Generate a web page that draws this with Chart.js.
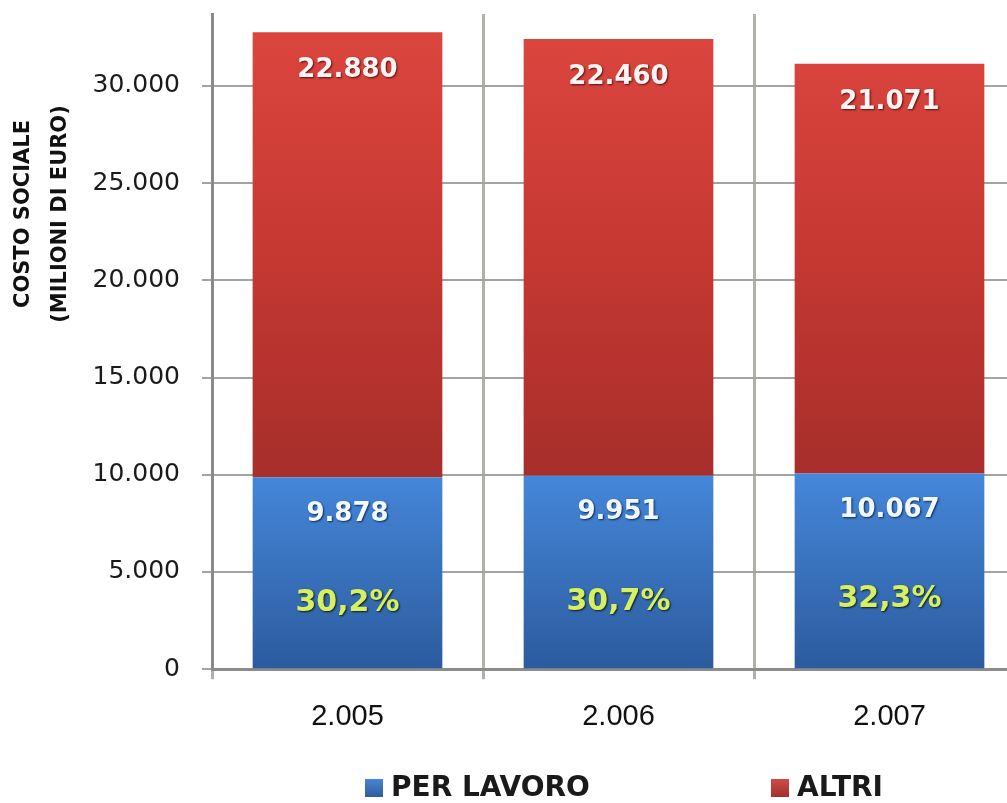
<!DOCTYPE html>
<html>
<head>
<meta charset="utf-8">
<script src="https://cdn.jsdelivr.net/npm/chart.js@4/dist/chart.umd.min.js"></script>
<style>
  html, body { margin: 0; padding: 0; background: #fff; overflow: hidden; }
  #wrap { width: 1040px; height: 803px; }
</style>
</head>
<body>
<div id="wrap"><canvas id="costChart" width="1040" height="803"></canvas></div>
<script>
// values
const categories = ['2.005', '2.006', '2.007'];
const perLavoro = [9878, 9951, 10067];
const altri = [22880, 22460, 21071];
const seriesNames = ['PER LAVORO', 'ALTRI'];
const yAxisTitle = ['COSTO SOCIALE', '(MILIONI DI EURO)'];
const yTicks = [0, 5000, 10000, 15000, 20000, 25000, 30000];
const yMax = 33700;

// 22880 -> "22.880"
function fmt(v) {
    return String(Math.round(v)).replace(/\B(?=(\d{3})+(?!\d))/g, '.');
}

function pct(i) {
    const p = perLavoro[i] / (perLavoro[i] + altri[i]) * 100;
    return p.toFixed(1).replace('.', ',') + '%';
}

function redFill(context) {
    const chart = context.chart;
    const y = chart.scales.y;
    if (!y || !chart.chartArea) return '#c0332f';
    const g = chart.ctx.createLinearGradient(0, y.getPixelForValue(33000), 0, y.getPixelForValue(10000));
    g.addColorStop(0, '#dc463f');
    g.addColorStop(0.5, '#c63832');
    g.addColorStop(1, '#a72e2b');
    return g;
}

function blueFill(context) {
    const chart = context.chart;
    const y = chart.scales.y;
    if (!y || !chart.chartArea) return '#3a72c0';
    const g = chart.ctx.createLinearGradient(0, y.getPixelForValue(10000), 0, y.getPixelForValue(0));
    g.addColorStop(0, '#4587d9');
    g.addColorStop(1, '#2c5b9e');
    return g;
}

// numbers inside the bars
const barLabels = {
    id: 'barLabels',
    afterDatasetsDraw(chart) {
        const ctx = chart.ctx;
        const blue = chart.getDatasetMeta(0).data;
        const red = chart.getDatasetMeta(1).data;
        ctx.save();
        ctx.textAlign = 'center';
        ctx.textBaseline = 'middle';
        ctx.shadowColor = 'rgba(40,0,0,0.75)';
        ctx.shadowBlur = 2;
        ctx.shadowOffsetX = 1;
        ctx.shadowOffsetY = 1;
        ctx.font = 'bold 26px "DejaVu Sans"';
        red.forEach((bar, i) => {
            ctx.fillStyle = '#fff4f2';
            ctx.fillText(fmt(altri[i]), bar.x, bar.y + 38);
        });
        blue.forEach((bar, i) => {
            ctx.shadowColor = 'rgba(0,20,60,0.8)';
            ctx.fillStyle = '#f2f8ff';
            ctx.font = 'bold 26px "DejaVu Sans"';
            ctx.fillText(fmt(perLavoro[i]), bar.x, bar.y + 37);
            ctx.shadowColor = 'rgba(10,20,0,0.9)';
            ctx.fillStyle = '#d6f062';
            ctx.font = 'bold 30px "DejaVu Sans"';
            ctx.fillText(pct(i), bar.x, bar.y + 126);
        });
        ctx.restore();
    }
};

// rotated axis title and bottom legend
const extras = {
    id: 'extras',
    afterDraw(chart) {
        const ctx = chart.ctx;
        ctx.save();
        ctx.fillStyle = '#111';
        ctx.font = 'bold 21px "DejaVu Sans"';
        ctx.textAlign = 'center';
        ctx.textBaseline = 'middle';
        const xs = [24, 61];
        yAxisTitle.forEach((t, k) => {
            ctx.save();
            ctx.translate(xs[k], 214);
            ctx.rotate(-Math.PI / 2);
            ctx.fillText(t, 0, 0);
            ctx.restore();
        });

        const items = [
            { x: 365, text: seriesNames[0], c1: '#4a86d4', c2: '#2e5c9c' },
            { x: 771, text: seriesNames[1], c1: '#d04a44', c2: '#a0302d' }
        ];
        const cy = 788;
        ctx.textAlign = 'left';
        ctx.font = 'bold 28px "DejaVu Sans"';
        items.forEach(it => {
            const g = ctx.createLinearGradient(0, cy - 9, 0, cy + 9);
            g.addColorStop(0, it.c1);
            g.addColorStop(1, it.c2);
            ctx.fillStyle = g;
            ctx.fillRect(it.x, cy - 9, 18, 18);
            ctx.fillStyle = '#1a1a1a';
            ctx.fillText(it.text, it.x + 26, cy + 1);
        });
        ctx.restore();
    }
};

const ctx = document.getElementById('costChart').getContext('2d');

const costChart = new Chart(ctx, {
    type: 'bar',
    data: {
        labels: categories,
        datasets: [{
            label: seriesNames[0],
            data: perLavoro,
            backgroundColor: blueFill,
            borderWidth: 0
        }, {
            label: seriesNames[1],
            data: altri,
            backgroundColor: redFill,
            borderWidth: 0
        }]
    },
    options: {
        responsive: false,
        animation: false,
        events: [],
        categoryPercentage: 1,
        barPercentage: 0.7,
        layout: {
            padding: { top: 14, right: 15, bottom: 49, left: 0 }
        },
        plugins: {
            legend: { display: false },
            tooltip: { enabled: false }
        },
        scales: {
            x: {
                stacked: true,
                grid: {
                    color: '#b3afab',
                    lineWidth: 3,
                    tickLength: 10,
                    offset: true
                },
                border: { color: '#8c8c8c', width: 3 },
                ticks: {
                    color: '#111',
                    padding: 20,
                    font: { family: '"Liberation Sans"', size: 29 }
                }
            },
            y: {
                stacked: true,
                min: 0,
                max: yMax,
                afterBuildTicks(scale) {
                    scale.ticks = yTicks.map(v => ({ value: v }));
                },
                afterFit(scale) {
                    scale.width = 212;
                    scale.paddingTop = 0;
                    scale.paddingBottom = 0;
                },
                grid: {
                    color: '#a3a3a3',
                    lineWidth: 2,
                    tickLength: 10
                },
                border: { color: '#8a8a8a', width: 3 },
                ticks: {
                    color: '#1a1a1a',
                    padding: 22,
                    font: { family: '"DejaVu Sans"', size: 25 },
                    callback: v => fmt(v)
                }
            }
        }
    },
    plugins: [barLabels, extras]
});
</script>
</body>
</html>
